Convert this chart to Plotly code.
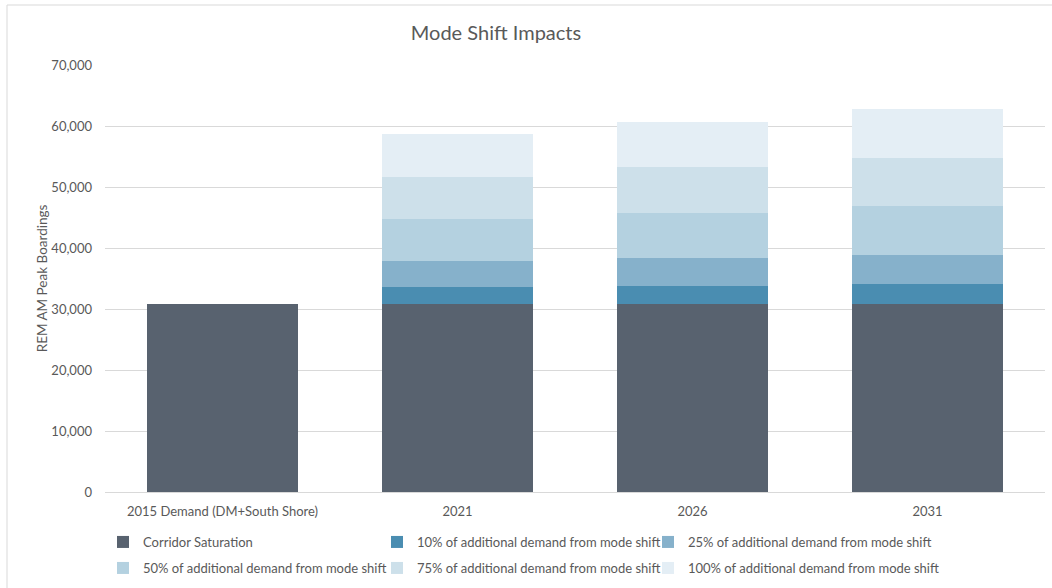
import plotly.graph_objects as go

# Categories along the x axis
categories = ["2015 Demand (DM+South Shore)", "2021", "2026", "2031"]

# Stacked segments (AM peak boardings)
corridor_saturation = [30870, 30870, 30870, 30870]
shift_10 = [None, 2750, 2930, 3280]
shift_25 = [None, 4270, 4600, 4700]
shift_50 = [None, 6880, 7300, 8050]
shift_75 = [None, 6890, 7500, 7900]
shift_100 = [None, 7000, 7500, 8000]

series_names = [
    "Corridor Saturation",
    "10% of additional demand from mode shift",
    "25% of additional demand from mode shift",
    "50% of additional demand from mode shift",
    "75% of additional demand from mode shift",
    "100% of additional demand from mode shift",
]
series_values = [corridor_saturation, shift_10, shift_25, shift_50, shift_75, shift_100]
series_colors = ["#58626F", "#4A8DB1", "#86B1CB", "#B4D1E0", "#CDE0EA", "#E4EEF5"]

FONT = "Lato"
TEXT_COLOR = "#595959"
GRID_COLOR = "#D9D9D9"

W, H = 1052, 588
L, R, T, B = 105, 7, 65, 96
plot_w = W - L - R
plot_h = H - T - B

# Legend grid: three columns, two rows (pixel anchors of each entry)
legend_cols_px = [103, 377, 648]
legend_rows_px = [527, 553]
legend_ids = ["legend", "legend2", "legend3", "legend4", "legend5", "legend6"]

fig = go.Figure()
for i, (name, vals, color) in enumerate(zip(series_names, series_values, series_colors)):
    fig.add_trace(go.Bar(
        x=categories,
        y=vals,
        name=name,
        legend=legend_ids[i],
        marker=dict(color=color, line=dict(width=0)),
        hovertemplate="%{x}<br>%{y:,}<extra>" + name + "</extra>",
    ))

legend_layouts = {}
for i, lid in enumerate(legend_ids):
    col = i % 3
    row = i // 3
    legend_layouts[lid] = dict(
        orientation="h",
        xref="container",
        yref="container",
        x=legend_cols_px[col] / W,
        xanchor="left",
        y=1 - legend_rows_px[row] / H,
        yanchor="top",
        font=dict(family=FONT, size=13, color=TEXT_COLOR),
        bgcolor="rgba(0,0,0,0)",
    )

fig.update_layout(
    width=W,
    height=H,
    barmode="stack",
    bargap=0.36,
    margin=dict(l=L, r=R, t=T, b=B),
    paper_bgcolor="white",
    plot_bgcolor="white",
    font=dict(family=FONT, size=13, color=TEXT_COLOR),
    title=dict(
        text="Mode Shift Impacts",
        x=496 / W,
        xanchor="center",
        xref="container",
        y=1 - 33 / H,
        yanchor="middle",
        yref="container",
        font=dict(family=FONT, size=20, color=TEXT_COLOR),
    ),
    xaxis=dict(
        showgrid=False,
        showline=False,
        ticks="",
        ticklabelstandoff=10,
        tickfont=dict(size=13, color=TEXT_COLOR),
    ),
    yaxis=dict(
        range=[0, 70000],
        dtick=10000,
        tickformat=",",
        showgrid=True,
        gridcolor=GRID_COLOR,
        gridwidth=1,
        zeroline=True,
        zerolinecolor=GRID_COLOR,
        zerolinewidth=1,
        showline=False,
        ticks="",
        ticklabelstandoff=12,
        tickfont=dict(size=13, color=TEXT_COLOR),
        title=dict(
            text="REM AM Peak Boardings",
            standoff=0,
            font=dict(size=13.5, color=TEXT_COLOR),
        ),
    ),
    showlegend=True,
    **legend_layouts,
)

# Light frame around the chart area
fig.add_shape(
    type="rect",
    xref="paper",
    yref="paper",
    x0=(7 - L) / plot_w,
    x1=1.2,
    y0=-0.6,
    y1=(492 - 5) / plot_h,
    line=dict(color=GRID_COLOR, width=1),
    fillcolor="rgba(0,0,0,0)",
    layer="below",
)

fig.write_html("out.html")
